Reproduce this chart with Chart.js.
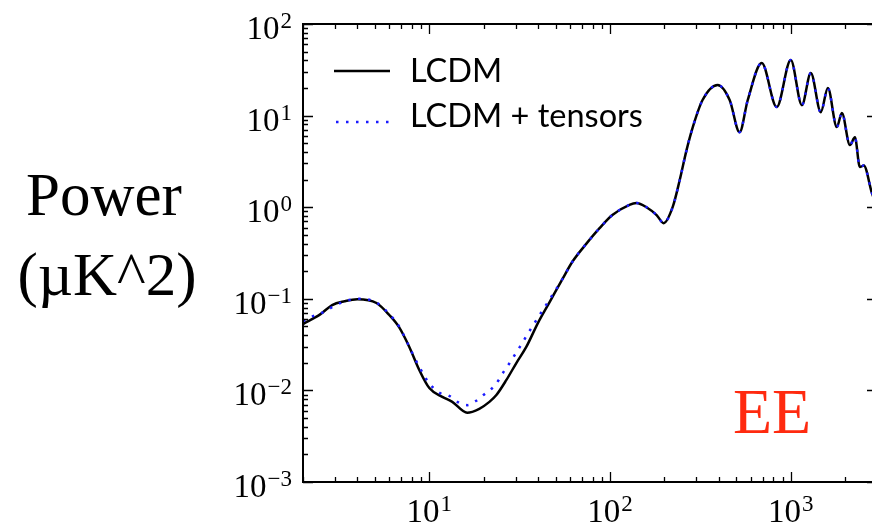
<!DOCTYPE html>
<html>
<head>
<meta charset="utf-8">
<script src="https://cdn.jsdelivr.net/npm/chart.js@4/dist/chart.umd.min.js"></script>
<style>
    html, body { margin: 0; padding: 0; background: #fff; overflow: hidden; }
    #wrap { width: 880px; height: 526px; }
</style>
</head>
<body>
<div id="wrap"><canvas id="ee-chart" width="880" height="526"></canvas></div>
<script>
// multipoles / power where the two curves differ (low l)
const ellLcdmLow = [2, 2.5, 2.9, 3.4, 4, 5.1, 6, 6.8, 7.75, 8.8, 10, 11.8, 13.4, 16.2, 18.9, 21.5, 23.5, 26.7, 30.3, 34.4, 40, 46.3];
const powerLcdmLow = [0.053, 0.068, 0.0855, 0.094, 0.099, 0.09, 0.0666, 0.049, 0.0298, 0.0167, 0.0106, 0.0085, 0.0075, 0.0057, 0.0063, 0.0075, 0.0089, 0.013, 0.0199, 0.0298, 0.055, 0.092];

const ellTensorsLow = [2, 2.2, 2.6, 2.9, 3.3, 3.6, 4, 5.1, 6, 6.8, 8, 8.45, 9, 9.6, 10.4, 11.4, 12.9, 14.3, 16.2, 18.2, 20.2, 22.3, 24.1, 25.7, 27.8, 31.9, 36.7, 45];
const powerTensorsLow = [0.057, 0.063, 0.0718, 0.081, 0.092, 0.097, 0.1, 0.091, 0.068, 0.05, 0.0262, 0.021, 0.0167, 0.0133, 0.0109, 0.0094, 0.0087, 0.0075, 0.0069, 0.0077, 0.0091, 0.0106, 0.0128, 0.0158, 0.0199, 0.0305, 0.048, 0.09];

// high l, both curves on top of each other
const ellHigh = [54.6, 62, 74, 87.5, 103, 128, 140, 159, 181, 198, 222, 243, 265, 287, 325, 394, 459, 521, 578, 691, 836, 1000, 1152, 1291, 1466, 1604, 1798, 1918, 2124, 2264, 2411, 2535, 2811, 3000];
const powerHigh = [0.165, 0.255, 0.4, 0.59, 0.82, 1.06, 1.11, 1.0, 0.82, 0.67, 1.0, 1.98, 4.2, 7.5, 14.8, 21.6, 14.8, 6.6, 14.8, 37.5, 12.4, 40.5, 13, 29.2, 10.9, 20, 7.5, 10.7, 4.77, 5.8, 2.75, 2.85, 1.43, 1.0];

const seriesNames = ['LCDM', 'LCDM + tensors'];
const xMin = 2, xMax = 3000;
const yMin = 1e-3, yMax = 1e2;

// zip ell + power into points
function toPoints(paramEll, paramPower) {
    return paramEll.map((ell, i) => ({ x: ell, y: paramPower[i] }));
}

const vLcdm = toPoints(ellLcdmLow, powerLcdmLow).concat(toPoints(ellHigh, powerHigh));
const vTensors = toPoints(ellTensorsLow, powerTensorsLow).concat(toPoints(ellHigh, powerHigh));

const SERIF = '"Liberation Serif", "Times New Roman", serif';

// log tick values 1..9 x 10^n inside [lo, hi]
function logTicks(lo, hi) {
    let vTicks = [];
    for (let e = Math.floor(Math.log10(lo)); e <= Math.ceil(Math.log10(hi)); e++) {
        for (let m = 1; m <= 9; m++) {
            let v = m * Math.pow(10, e);
            if (v >= lo * 0.999 && v <= hi * 1.001) vTicks.push({ value: v, major: m === 1, exp: e });
        }
    }
    return vTicks;
}

// draw "10" with superscript exponent
function drawPow(ctx, exp, x, y, align) {
    let vBase = '10';
    let vExp = exp < 0 ? '\u2212' + Math.abs(exp) : String(exp);
    ctx.font = '33px ' + SERIF;
    let wBase = ctx.measureText(vBase).width;
    ctx.font = '23px ' + SERIF;
    let wExp = ctx.measureText(vExp).width;
    let vLeft = align === 'right' ? x - wBase - wExp - 1 : x - (wBase + wExp + 1) / 2;
    ctx.textAlign = 'left';
    ctx.textBaseline = 'alphabetic';
    ctx.font = '33px ' + SERIF;
    ctx.fillText(vBase, vLeft, y);
    ctx.font = '23px ' + SERIF;
    ctx.fillText(vExp, vLeft + wBase + 1, y - 11);
}

const axesDecor = {
    id: 'axesDecor',
    afterDraw(chart) {
        const { ctx, chartArea: a, scales } = chart;
        const x = scales.x, y = scales.y;
        ctx.save();
        ctx.fillStyle = '#000';
        ctx.strokeStyle = '#000';

        // spines
        ctx.lineWidth = 2;
        ctx.strokeRect(a.left, a.top, a.right - a.left, a.bottom - a.top);

        // inward ticks, all four sides
        ctx.lineWidth = 1.3;
        ctx.beginPath();
        logTicks(xMin, xMax).forEach((t) => {
            let px = Math.round(x.getPixelForValue(t.value)) + 0.5;
            let len = t.major ? 10 : 5;
            ctx.moveTo(px, a.bottom); ctx.lineTo(px, a.bottom - len);
            ctx.moveTo(px, a.top); ctx.lineTo(px, a.top + len);
        });
        logTicks(yMin, yMax).forEach((t) => {
            let py = Math.round(y.getPixelForValue(t.value)) + 0.5;
            let len = t.major ? 10 : 5;
            ctx.moveTo(a.left, py); ctx.lineTo(a.left + len, py);
            ctx.moveTo(a.right, py); ctx.lineTo(a.right - len, py);
        });
        ctx.stroke();

        // tick labels
        logTicks(xMin, xMax).filter((t) => t.major).forEach((t) => {
            drawPow(ctx, t.exp, x.getPixelForValue(t.value), a.bottom + 40, 'center');
        });
        logTicks(yMin, yMax).filter((t) => t.major).forEach((t) => {
            drawPow(ctx, t.exp, a.left - 11, y.getPixelForValue(t.value) + 15, 'right');
        });

        // y title
        ctx.textAlign = 'center';
        ctx.font = '61px ' + SERIF;
        ctx.fillText('Power', 104, 215);
        ctx.fillText('(\u00b5K^2)', 107, 295);

        // EE label
        ctx.fillStyle = '#ff2a0f';
        ctx.textAlign = 'left';
        ctx.font = '64px ' + SERIF;
        ctx.fillText('EE', 733, 433);

        // legend
        ctx.fillStyle = '#000';
        ctx.lineWidth = 2.5;
        ctx.beginPath();
        ctx.moveTo(334, 71); ctx.lineTo(390, 71);
        ctx.stroke();
        ctx.strokeStyle = '#1a1aff';
        ctx.setLineDash([2.5, 7.5]);
        ctx.beginPath();
        ctx.moveTo(336, 122); ctx.lineTo(392, 122);
        ctx.stroke();
        ctx.setLineDash([]);
        ctx.font = '32.5px Lato, "Open Sans", sans-serif';
        ctx.fillText(seriesNames[0], 410, 82);
        ctx.fillText(seriesNames[1], 410, 127);
        ctx.restore();
    },
};

new Chart(document.getElementById('ee-chart'), {
    type: 'line',
    data: {
        datasets: [
            {
                label: seriesNames[1],
                data: vTensors,
                borderColor: '#1a1aff',
                borderWidth: 2.5,
                borderDash: [2.5, 7.5],
                pointRadius: 0,
                fill: false,
                cubicInterpolationMode: 'monotone',
                order: 0,
            },
            {
                label: seriesNames[0],
                data: vLcdm,
                borderColor: '#000',
                borderWidth: 2.5,
                pointRadius: 0,
                fill: false,
                cubicInterpolationMode: 'monotone',
                order: 1,
            },
        ],
    },
    options: {
        responsive: false,
        animation: false,
        devicePixelRatio: 1,
        layout: { padding: { left: 303, top: 24, right: 3, bottom: 44 } },
        plugins: { legend: { display: false }, tooltip: { enabled: false } },
        scales: {
            x: {
                type: 'logarithmic',
                min: xMin,
                max: xMax,
                border: { display: false },
                grid: { display: false, drawTicks: false },
                ticks: { display: false },
            },
            y: {
                type: 'logarithmic',
                min: yMin,
                max: yMax,
                border: { display: false },
                grid: { display: false, drawTicks: false },
                ticks: { display: false },
            },
        },
    },
    plugins: [axesDecor],
});
</script>
</body>
</html>
